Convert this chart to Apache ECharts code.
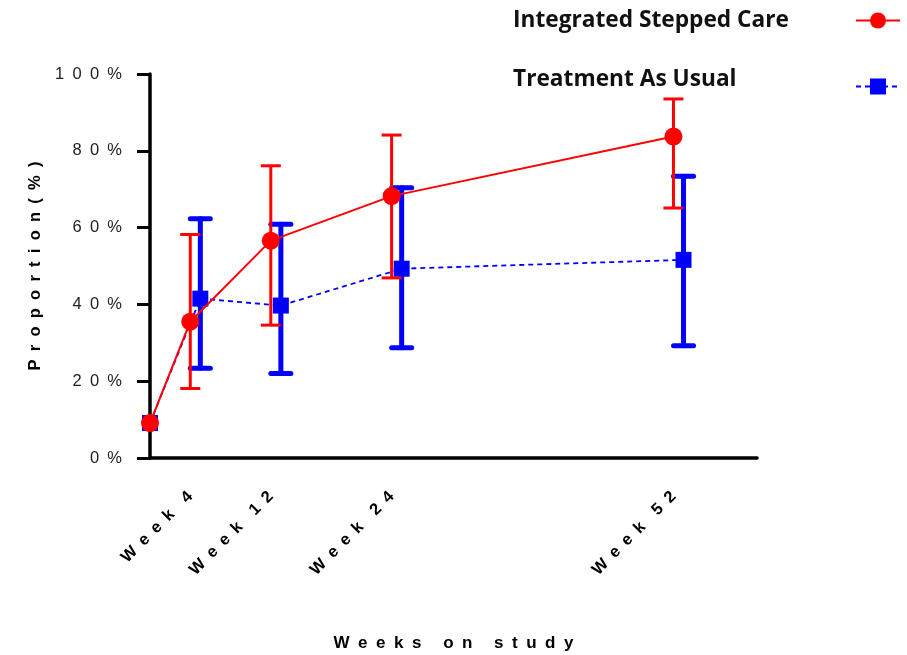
<!DOCTYPE html>
<html>
<head>
<meta charset="utf-8">
<script src="https://cdn.jsdelivr.net/npm/echarts@6/dist/echarts.min.js"></script>
<style>
  html, body { margin: 0; padding: 0; background: #fff; }
  #chart { width: 907px; height: 655px; }
</style>
</head>
<body>
<div id="chart"></div>
<script>
// Proportion of participants by week on study, two arms, with 95% intervals
const seriesNames = ['Integrated Stepped Care', 'Treatment As Usual'];

// Integrated Stepped Care
const iscWeeks = [0, 4, 12, 24, 52];
const iscMean  = [9.1, 35.5, 56.6, 68.2, 83.7];
const iscLow   = [null, 18.1, 34.6, 46.9, 65.1];
const iscHigh  = [null, 58.2, 76.1, 84.1, 93.5];

// Treatment As Usual (plotted one week to the right to keep the bars apart)
const tauWeeks = [0, 5, 13, 25, 53];
const tauMean  = [9.1, 41.5, 39.7, 49.3, 51.6];
const tauLow   = [null, 23.4, 22.0, 28.7, 29.2];
const tauHigh  = [null, 62.3, 60.9, 70.4, 73.4];

// Labelled time points on the x axis
const xTickWeeks  = [4, 12, 24, 52];
const xTickLabels = ['Week 4', 'Week 12', 'Week 24', 'Week 52'];

const yTickValues = [0, 20, 40, 60, 80, 100];

// Letter-spaced text, as used throughout the figure
const EN = '\u2002';
function spaced(s, sep, wordSep) {
  return s.split(' ').map(w => w.split('').join(sep)).join(wordSep);
}

function pairs(xs, ys) { return xs.map((x, i) => [x, ys[i]]); }
function bars(xs, lo, hi) {
  return xs.map((x, i) => [x, lo[i], hi[i]]).filter(d => d[1] != null);
}

function errorBarRenderer(color, width, cap, lineCap) {
  return function (params, api) {
    const x = api.value(0);
    const top = api.coord([x, api.value(2)]);
    const bot = api.coord([x, api.value(1)]);
    const style = { stroke: color, lineWidth: width, lineCap: lineCap };
    return {
      type: 'group',
      children: [
        { type: 'line', shape: { x1: top[0], y1: top[1], x2: bot[0], y2: bot[1] }, style: style },
        { type: 'line', shape: { x1: top[0] - cap, y1: top[1], x2: top[0] + cap, y2: top[1] }, style: style },
        { type: 'line', shape: { x1: bot[0] - cap, y1: bot[1], x2: bot[0] + cap, y2: bot[1] }, style: style }
      ]
    };
  };
}

const RED = '#ff0000';
const BLUE = '#0000ff';
const LEGEND_FONT = { fontFamily: 'Open Sans', fontWeight: 'bold', fontSize: 22.7, color: '#111', width: 338, align: 'left' };

const chart = echarts.init(document.getElementById('chart'), null, { renderer: 'canvas' });

chart.setOption({
  animation: false,
  backgroundColor: '#ffffff',
  grid: { left: 150, width: 607, top: 74, height: 384, containLabel: false, outerBoundsMode: 'none' },
  legend: {
    data: seriesNames,
    orient: 'vertical',
    right: 1,
    top: 4,
    align: 'right',
    itemWidth: 44,
    itemHeight: 20,
    itemGap: 36,
    formatter: function (name) {
      return name === seriesNames[1] ? '{b|' + name + '}' : '{a|' + name + '}';
    },
    textStyle: {
      rich: {
        a: Object.assign({}, LEGEND_FONT),
        b: Object.assign({ padding: [0, 0, 14, 0] }, LEGEND_FONT)
      }
    }
  },
  xAxis: {
    type: 'value',
    min: 0,
    max: 60.3,
    interval: 4,
    splitLine: { show: false },
    axisLine: { show: true, onZero: false, lineStyle: { color: '#000', width: 3.5 } },
    axisTick: { show: false },
    axisLabel: {
      rotate: 45,
      margin: 36,
      fontFamily: 'Liberation Sans',
      fontWeight: 'bold',
      fontSize: 16.5,
      color: '#000',
      showMinLabel: false,
      showMaxLabel: false,
      formatter: function (v) {
        const i = xTickWeeks.indexOf(v);
        return i >= 0 ? spaced(xTickLabels[i], EN, EN + EN) : '';
      }
    },
    name: spaced('Weeks on study', EN, EN + EN + ' '),
    nameLocation: 'middle',
    nameGap: 177,
    nameTextStyle: { fontFamily: 'Liberation Sans', fontWeight: 'bold', fontSize: 17, color: '#000' }
  },
  yAxis: {
    type: 'value',
    min: 0,
    max: 100,
    interval: 20,
    splitLine: { show: false },
    axisLine: { show: true, lineStyle: { color: '#000', width: 3.5 } },
    axisTick: { show: true, length: 13, lineStyle: { color: '#000', width: 3 } },
    axisLabel: {
      margin: 28,
      fontFamily: 'Liberation Sans',
      fontSize: 16.5,
      color: '#222',
      formatter: function (v) {
        return yTickValues.indexOf(v) >= 0 ? spaced(String(v) + '%', EN, EN) : '';
      }
    },
    name: spaced('Proportion(%)', EN, EN),
    nameLocation: 'middle',
    nameGap: 106,
    nameTextStyle: { fontFamily: 'Liberation Sans', fontWeight: 'bold', fontSize: 16.5, color: '#000' }
  },
  series: [
    {
      name: 'tauBars',
      type: 'custom',
      z: 1,
      renderItem: errorBarRenderer(BLUE, 5, 10, 'round'),
      data: bars(tauWeeks, tauLow, tauHigh),
      silent: true
    },
    {
      name: seriesNames[1],
      type: 'line',
      z: 2,
      data: pairs(tauWeeks, tauMean),
      color: BLUE,
      symbol: 'rect',
      symbolSize: 16,
      lineStyle: { color: BLUE, width: 1.8, type: [5, 4] },
      itemStyle: { color: BLUE }
    },
    {
      name: 'iscBars',
      type: 'custom',
      z: 3,
      renderItem: errorBarRenderer(RED, 3, 10, 'butt'),
      data: bars(iscWeeks, iscLow, iscHigh),
      silent: true
    },
    {
      name: seriesNames[0],
      type: 'line',
      z: 4,
      data: pairs(iscWeeks, iscMean),
      color: RED,
      symbol: 'circle',
      symbolSize: 18,
      lineStyle: { color: RED, width: 2 },
      itemStyle: { color: RED }
    }
  ]
});
</script>
</body>
</html>
